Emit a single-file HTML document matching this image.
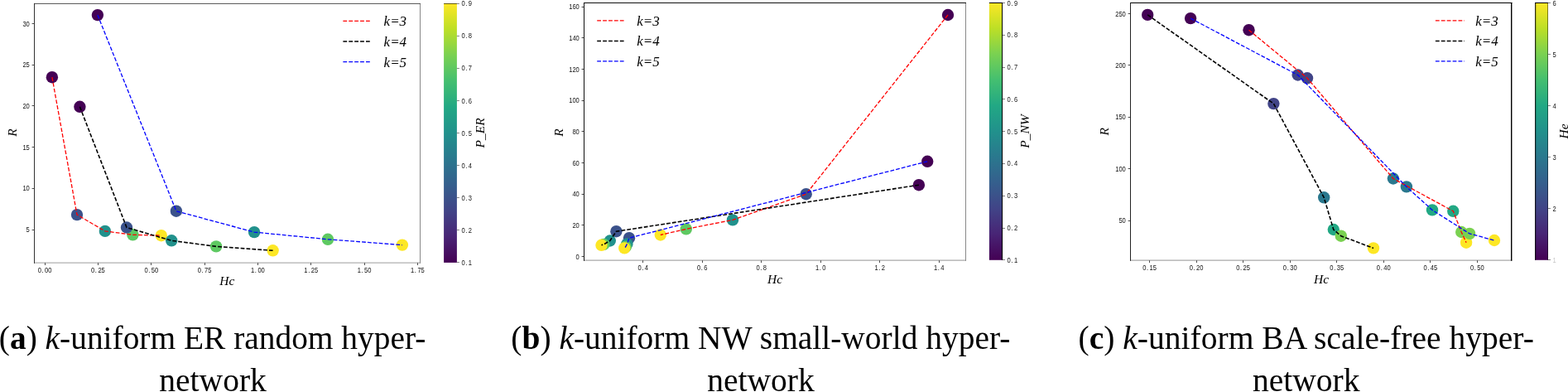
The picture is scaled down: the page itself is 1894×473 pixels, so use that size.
<!DOCTYPE html>
<html lang="en">
<head>
<meta charset="utf-8">
<title>k-uniform hypernetworks: R versus Hc</title>
<style>
html,body{margin:0;padding:0;background:#fff;}
body{width:1894px;height:473px;overflow:hidden;position:relative;font-family:"Liberation Serif",serif;}
svg{position:absolute;left:0;top:0;display:block;}
.tk{font-family:"Liberation Sans",sans-serif;font-size:8.5px;fill:#111;}
.al{font-family:"Liberation Serif",serif;font-style:italic;font-size:15.5px;fill:#000;}
.lg{font-family:"Liberation Serif",serif;font-style:italic;font-size:17px;fill:#000;}
.cap{position:absolute;top:384.4px;font-size:39.55px;line-height:49.6px;color:#000;white-space:nowrap;}
.l2{top:435.2px;width:400px;text-align:center;}
.cap b{font-weight:bold;}
.cap i{font-style:italic;}
</style>
</head>
<body>
<svg width="1894" height="473" viewBox="0 0 1894 473">
<defs>
<linearGradient id="vir" x1="0" y1="1" x2="0" y2="0">
<stop offset="0" stop-color="#440154"/>
<stop offset="0.1" stop-color="#482475"/>
<stop offset="0.2" stop-color="#414487"/>
<stop offset="0.3" stop-color="#355f8d"/>
<stop offset="0.4" stop-color="#2a788e"/>
<stop offset="0.5" stop-color="#21918c"/>
<stop offset="0.6" stop-color="#22a884"/>
<stop offset="0.7" stop-color="#44bf70"/>
<stop offset="0.8" stop-color="#7ad151"/>
<stop offset="0.9" stop-color="#bddf26"/>
<stop offset="1" stop-color="#fde725"/>
</linearGradient>
</defs>
<line x1="41.0" y1="317.2" x2="508.0" y2="317.2" stroke="#b0b0b0" stroke-width="1.3"/>
<line x1="507.5" y1="3.95" x2="507.5" y2="317.84999999999997" stroke="#888" stroke-width="1"/>
<line x1="41.0" y1="4.45" x2="508.0" y2="4.45" stroke="#555" stroke-width="1"/>
<line x1="41.5" y1="3.95" x2="41.5" y2="317.84999999999997" stroke="#333" stroke-width="1"/>
<line x1="54.5" y1="317.2" x2="54.5" y2="320.0" stroke="#222" stroke-width="1" stroke-opacity="0.8"/>
<text transform="translate(54.1 328.8) scale(0.89 1)" class="tk" text-anchor="middle" fill-opacity="1">0<tspan dx="0.7">.</tspan><tspan dx="1.6">00</tspan></text>
<line x1="118.5" y1="317.2" x2="118.5" y2="320.0" stroke="#222" stroke-width="1" stroke-opacity="0.8"/>
<text transform="translate(118.4 328.8) scale(0.89 1)" class="tk" text-anchor="middle" fill-opacity="1">0<tspan dx="0.7">.</tspan><tspan dx="1.6">25</tspan></text>
<line x1="182.5" y1="317.2" x2="182.5" y2="320.0" stroke="#222" stroke-width="1" stroke-opacity="0.8"/>
<text transform="translate(182.8 328.8) scale(0.89 1)" class="tk" text-anchor="middle" fill-opacity="1">0<tspan dx="0.7">.</tspan><tspan dx="1.6">50</tspan></text>
<line x1="247.5" y1="317.2" x2="247.5" y2="320.0" stroke="#222" stroke-width="1" stroke-opacity="0.8"/>
<text transform="translate(247.1 328.8) scale(0.89 1)" class="tk" text-anchor="middle" fill-opacity="1">0<tspan dx="0.7">.</tspan><tspan dx="1.6">75</tspan></text>
<line x1="311.5" y1="317.2" x2="311.5" y2="320.0" stroke="#222" stroke-width="1" stroke-opacity="0.8"/>
<text transform="translate(311.4 328.8) scale(0.89 1)" class="tk" text-anchor="middle" fill-opacity="1">1<tspan dx="0.7">.</tspan><tspan dx="1.6">00</tspan></text>
<line x1="375.5" y1="317.2" x2="375.5" y2="320.0" stroke="#222" stroke-width="1" stroke-opacity="0.8"/>
<text transform="translate(375.7 328.8) scale(0.89 1)" class="tk" text-anchor="middle" fill-opacity="1">1<tspan dx="0.7">.</tspan><tspan dx="1.6">25</tspan></text>
<line x1="440.5" y1="317.2" x2="440.5" y2="320.0" stroke="#222" stroke-width="1" stroke-opacity="0.8"/>
<text transform="translate(440.1 328.8) scale(0.89 1)" class="tk" text-anchor="middle" fill-opacity="1">1<tspan dx="0.7">.</tspan><tspan dx="1.6">50</tspan></text>
<line x1="504.5" y1="317.2" x2="504.5" y2="320.0" stroke="#222" stroke-width="1" stroke-opacity="0.8"/>
<text transform="translate(504.4 328.8) scale(0.89 1)" class="tk" text-anchor="middle" fill-opacity="1">1<tspan dx="0.7">.</tspan><tspan dx="1.6">75</tspan></text>
<line x1="38.6" y1="277.5" x2="41.0" y2="277.5" stroke="#222" stroke-width="1" stroke-opacity="0.8"/>
<text transform="translate(35.8 280.1) scale(0.89 1)" class="tk" text-anchor="end" fill-opacity="1">5</text>
<line x1="38.6" y1="227.5" x2="41.0" y2="227.5" stroke="#222" stroke-width="1" stroke-opacity="0.8"/>
<text transform="translate(35.8 230.4) scale(0.89 1)" class="tk" text-anchor="end" fill-opacity="1">10</text>
<line x1="38.6" y1="177.5" x2="41.0" y2="177.5" stroke="#222" stroke-width="1" stroke-opacity="0.8"/>
<text transform="translate(35.8 180.7) scale(0.89 1)" class="tk" text-anchor="end" fill-opacity="1">15</text>
<line x1="38.6" y1="127.5" x2="41.0" y2="127.5" stroke="#222" stroke-width="1" stroke-opacity="0.8"/>
<text transform="translate(35.8 131.0) scale(0.89 1)" class="tk" text-anchor="end" fill-opacity="1">20</text>
<line x1="38.6" y1="78.5" x2="41.0" y2="78.5" stroke="#222" stroke-width="1" stroke-opacity="0.8"/>
<text transform="translate(35.8 81.3) scale(0.89 1)" class="tk" text-anchor="end" fill-opacity="1">25</text>
<line x1="38.6" y1="28.5" x2="41.0" y2="28.5" stroke="#222" stroke-width="1" stroke-opacity="0.8"/>
<text transform="translate(35.8 31.6) scale(0.89 1)" class="tk" text-anchor="end" fill-opacity="1">30</text>
<circle cx="62.9" cy="93.2" r="7.2" fill="#440154"/>
<circle cx="93.0" cy="259.1" r="7.2" fill="#3b528b"/>
<circle cx="126.9" cy="278.9" r="7.2" fill="#21918c"/>
<circle cx="160.4" cy="283.3" r="7.2" fill="#5ec962"/>
<circle cx="194.8" cy="284.2" r="7.2" fill="#fde725"/>
<circle cx="96.4" cy="128.8" r="7.2" fill="#440154"/>
<circle cx="153.0" cy="274.5" r="7.2" fill="#3b528b"/>
<circle cx="207.2" cy="290.3" r="7.2" fill="#21918c"/>
<circle cx="261.1" cy="297.4" r="7.2" fill="#5ec962"/>
<circle cx="329.6" cy="302.3" r="7.2" fill="#fde725"/>
<circle cx="117.9" cy="18.1" r="7.2" fill="#440154"/>
<circle cx="212.9" cy="254.7" r="7.2" fill="#3b528b"/>
<circle cx="307.1" cy="280.1" r="7.2" fill="#21918c"/>
<circle cx="396.0" cy="288.8" r="7.2" fill="#5ec962"/>
<circle cx="485.9" cy="295.6" r="7.2" fill="#fde725"/>
<polyline points="62.9,93.2 93.0,259.1 126.9,278.9 160.4,283.3 194.8,284.2" fill="none" stroke="#ff0000" stroke-width="1.3" stroke-dasharray="4.8 2.1"/>
<polyline points="96.4,128.8 153.0,274.5 207.2,290.3 261.1,297.4 329.6,302.3" fill="none" stroke="#000000" stroke-width="1.6" stroke-dasharray="4.8 2.1"/>
<polyline points="117.9,18.1 212.9,254.7 307.1,280.1 396.0,288.8 485.9,295.6" fill="none" stroke="#0000ff" stroke-width="1.3" stroke-dasharray="4.8 2.1"/>
<line x1="414.4" y1="25.4" x2="447.9" y2="25.4" stroke="#ff0000" stroke-width="1.3" stroke-dasharray="4.8 2.1"/>
<text x="463.6" y="31.299999999999997" class="lg">k=3</text>
<line x1="414.4" y1="50.0" x2="447.9" y2="50.0" stroke="#000000" stroke-width="1.3" stroke-dasharray="4.8 2.1"/>
<text x="463.6" y="55.9" class="lg">k=4</text>
<line x1="414.4" y1="74.7" x2="447.9" y2="74.7" stroke="#0000ff" stroke-width="1.3" stroke-dasharray="4.8 2.1"/>
<text x="463.6" y="80.60000000000001" class="lg">k=5</text>
<text x="274.3" y="344.3" class="al" text-anchor="middle">Hc</text>
<text transform="translate(20 160) rotate(-90)" class="al" text-anchor="middle">R</text>
<rect x="536.1" y="4.0" width="15.799999999999955" height="312.9" fill="url(#vir)"/>
<line x1="536.1" y1="4.5" x2="551.9" y2="4.5" stroke="#000" stroke-width="1" stroke-opacity="0.6"/>
<line x1="551.9" y1="316.5" x2="554.9" y2="316.5" stroke="#222" stroke-width="1" stroke-opacity="0.55"/>
<text transform="translate(557.5 319.8) scale(0.89 1)" class="tk" text-anchor="start" fill-opacity="1">0<tspan dx="0.7">.</tspan><tspan dx="1.6">1</tspan></text>
<line x1="551.9" y1="277.5" x2="554.9" y2="277.5" stroke="#222" stroke-width="1" stroke-opacity="0.55"/>
<text transform="translate(557.5 280.7) scale(0.89 1)" class="tk" text-anchor="start" fill-opacity="1">0<tspan dx="0.7">.</tspan><tspan dx="1.6">2</tspan></text>
<line x1="551.9" y1="238.5" x2="554.9" y2="238.5" stroke="#222" stroke-width="1" stroke-opacity="0.55"/>
<text transform="translate(557.5 241.7) scale(0.89 1)" class="tk" text-anchor="start" fill-opacity="1">0<tspan dx="0.7">.</tspan><tspan dx="1.6">3</tspan></text>
<line x1="551.9" y1="199.5" x2="554.9" y2="199.5" stroke="#222" stroke-width="1" stroke-opacity="0.55"/>
<text transform="translate(557.5 202.6) scale(0.89 1)" class="tk" text-anchor="start" fill-opacity="1">0<tspan dx="0.7">.</tspan><tspan dx="1.6">4</tspan></text>
<line x1="551.9" y1="160.5" x2="554.9" y2="160.5" stroke="#222" stroke-width="1" stroke-opacity="0.55"/>
<text transform="translate(557.5 163.5) scale(0.89 1)" class="tk" text-anchor="start" fill-opacity="1">0<tspan dx="0.7">.</tspan><tspan dx="1.6">5</tspan></text>
<line x1="551.9" y1="121.5" x2="554.9" y2="121.5" stroke="#222" stroke-width="1" stroke-opacity="0.55"/>
<text transform="translate(557.5 124.5) scale(0.89 1)" class="tk" text-anchor="start" fill-opacity="1">0<tspan dx="0.7">.</tspan><tspan dx="1.6">6</tspan></text>
<line x1="551.9" y1="82.5" x2="554.9" y2="82.5" stroke="#222" stroke-width="1" stroke-opacity="0.55"/>
<text transform="translate(557.5 85.4) scale(0.89 1)" class="tk" text-anchor="start" fill-opacity="1">0<tspan dx="0.7">.</tspan><tspan dx="1.6">7</tspan></text>
<line x1="551.9" y1="43.5" x2="554.9" y2="43.5" stroke="#222" stroke-width="1" stroke-opacity="0.55"/>
<text transform="translate(557.5 46.3) scale(0.89 1)" class="tk" text-anchor="start" fill-opacity="1">0<tspan dx="0.7">.</tspan><tspan dx="1.6">8</tspan></text>
<line x1="551.9" y1="4.5" x2="554.9" y2="4.5" stroke="#222" stroke-width="1" stroke-opacity="0.55"/>
<text transform="translate(557.5 7.2) scale(0.89 1)" class="tk" text-anchor="start" fill-opacity="1">0<tspan dx="0.7">.</tspan><tspan dx="1.6">9</tspan></text>
<text transform="translate(585 160.45) rotate(-90)" class="al" text-anchor="middle">P_ER</text>
<line x1="705.0" y1="314.2" x2="1167.0" y2="314.2" stroke="#a8a8a8" stroke-width="1.3"/>
<line x1="1166.5" y1="3.0" x2="1166.5" y2="314.84999999999997" stroke="#888" stroke-width="1"/>
<line x1="705.0" y1="3.5" x2="1167.0" y2="3.5" stroke="#111" stroke-width="1"/>
<line x1="705.5" y1="3.0" x2="705.5" y2="314.84999999999997" stroke="#111" stroke-width="1"/>
<line x1="776.5" y1="314.3" x2="776.5" y2="317.1" stroke="#222" stroke-width="1" stroke-opacity="0.8"/>
<text transform="translate(776.7 325.8) scale(0.89 1)" class="tk" text-anchor="middle" fill-opacity="1">0<tspan dx="0.7">.</tspan><tspan dx="1.6">4</tspan></text>
<line x1="848.5" y1="314.3" x2="848.5" y2="317.1" stroke="#222" stroke-width="1" stroke-opacity="0.8"/>
<text transform="translate(848.2 325.8) scale(0.89 1)" class="tk" text-anchor="middle" fill-opacity="1">0<tspan dx="0.7">.</tspan><tspan dx="1.6">6</tspan></text>
<line x1="919.5" y1="314.3" x2="919.5" y2="317.1" stroke="#222" stroke-width="1" stroke-opacity="0.8"/>
<text transform="translate(919.7 325.8) scale(0.89 1)" class="tk" text-anchor="middle" fill-opacity="1">0<tspan dx="0.7">.</tspan><tspan dx="1.6">8</tspan></text>
<line x1="991.5" y1="314.3" x2="991.5" y2="317.1" stroke="#222" stroke-width="1" stroke-opacity="0.8"/>
<text transform="translate(991.3 325.8) scale(0.89 1)" class="tk" text-anchor="middle" fill-opacity="1">1<tspan dx="0.7">.</tspan><tspan dx="1.6">0</tspan></text>
<line x1="1062.5" y1="314.3" x2="1062.5" y2="317.1" stroke="#222" stroke-width="1" stroke-opacity="0.8"/>
<text transform="translate(1062.8 325.8) scale(0.89 1)" class="tk" text-anchor="middle" fill-opacity="1">1<tspan dx="0.7">.</tspan><tspan dx="1.6">2</tspan></text>
<line x1="1134.5" y1="314.3" x2="1134.5" y2="317.1" stroke="#222" stroke-width="1" stroke-opacity="0.8"/>
<text transform="translate(1134.3 325.8) scale(0.89 1)" class="tk" text-anchor="middle" fill-opacity="1">1<tspan dx="0.7">.</tspan><tspan dx="1.6">4</tspan></text>
<line x1="702.6" y1="309.5" x2="705.0" y2="309.5" stroke="#222" stroke-width="1" stroke-opacity="0.8"/>
<text transform="translate(699.8 312.6) scale(0.89 1)" class="tk" text-anchor="end" fill-opacity="1">0</text>
<line x1="702.6" y1="271.5" x2="705.0" y2="271.5" stroke="#222" stroke-width="1" stroke-opacity="0.8"/>
<text transform="translate(699.8 274.9) scale(0.89 1)" class="tk" text-anchor="end" fill-opacity="1">20</text>
<line x1="702.6" y1="234.5" x2="705.0" y2="234.5" stroke="#222" stroke-width="1" stroke-opacity="0.8"/>
<text transform="translate(699.8 237.3) scale(0.89 1)" class="tk" text-anchor="end" fill-opacity="1">40</text>
<line x1="702.6" y1="196.5" x2="705.0" y2="196.5" stroke="#222" stroke-width="1" stroke-opacity="0.8"/>
<text transform="translate(699.8 199.6) scale(0.89 1)" class="tk" text-anchor="end" fill-opacity="1">60</text>
<line x1="702.6" y1="158.5" x2="705.0" y2="158.5" stroke="#222" stroke-width="1" stroke-opacity="0.8"/>
<text transform="translate(699.8 162.0) scale(0.89 1)" class="tk" text-anchor="end" fill-opacity="1">80</text>
<line x1="702.6" y1="121.5" x2="705.0" y2="121.5" stroke="#222" stroke-width="1" stroke-opacity="0.8"/>
<text transform="translate(699.8 124.3) scale(0.89 1)" class="tk" text-anchor="end" fill-opacity="1">100</text>
<line x1="702.6" y1="83.5" x2="705.0" y2="83.5" stroke="#222" stroke-width="1" stroke-opacity="0.8"/>
<text transform="translate(699.8 86.6) scale(0.89 1)" class="tk" text-anchor="end" fill-opacity="1">120</text>
<line x1="702.6" y1="45.5" x2="705.0" y2="45.5" stroke="#222" stroke-width="1" stroke-opacity="0.8"/>
<text transform="translate(699.8 49.0) scale(0.89 1)" class="tk" text-anchor="end" fill-opacity="1">140</text>
<line x1="702.6" y1="8.5" x2="705.0" y2="8.5" stroke="#222" stroke-width="1" stroke-opacity="0.8"/>
<text transform="translate(699.8 11.3) scale(0.89 1)" class="tk" text-anchor="end" fill-opacity="1">160</text>
<circle cx="1145.0" cy="18.0" r="7.2" fill="#440154"/>
<circle cx="973.7" cy="234.2" r="7.2" fill="#3b528b"/>
<circle cx="885.0" cy="265.4" r="7.2" fill="#21918c"/>
<circle cx="828.8" cy="276.4" r="7.2" fill="#5ec962"/>
<circle cx="797.8" cy="283.5" r="7.2" fill="#fde725"/>
<circle cx="1109.9" cy="223.2" r="7.2" fill="#440154"/>
<circle cx="744.4" cy="279.2" r="7.2" fill="#3b528b"/>
<circle cx="736.8" cy="290.5" r="7.2" fill="#21918c"/>
<circle cx="729.3" cy="294.9" r="7.2" fill="#5ec962"/>
<circle cx="726.5" cy="295.8" r="7.2" fill="#fde725"/>
<circle cx="1120.2" cy="194.8" r="7.2" fill="#440154"/>
<circle cx="760.0" cy="287.2" r="7.2" fill="#3b528b"/>
<circle cx="757.4" cy="294.4" r="7.2" fill="#21918c"/>
<circle cx="755.7" cy="297.8" r="7.2" fill="#5ec962"/>
<circle cx="754.3" cy="299.4" r="7.2" fill="#fde725"/>
<polyline points="1145.0,18.0 973.7,234.2 885.0,265.4 828.8,276.4 797.8,283.5" fill="none" stroke="#ff0000" stroke-width="1.3" stroke-dasharray="4.8 2.1"/>
<polyline points="1109.9,223.2 744.4,279.2 736.8,290.5 729.3,294.9 726.5,295.8" fill="none" stroke="#000000" stroke-width="1.6" stroke-dasharray="4.8 2.1"/>
<polyline points="1120.2,194.8 760.0,287.2 757.4,294.4 755.7,297.8 754.3,299.4" fill="none" stroke="#0000ff" stroke-width="1.3" stroke-dasharray="4.8 2.1"/>
<line x1="721.2" y1="24.9" x2="755.2" y2="24.9" stroke="#ff0000" stroke-width="1.3" stroke-dasharray="4.8 2.1"/>
<text x="769.2" y="30.799999999999997" class="lg">k=3</text>
<line x1="721.2" y1="49.5" x2="755.2" y2="49.5" stroke="#000000" stroke-width="1.3" stroke-dasharray="4.8 2.1"/>
<text x="769.2" y="55.4" class="lg">k=4</text>
<line x1="721.2" y1="73.9" x2="755.2" y2="73.9" stroke="#0000ff" stroke-width="1.3" stroke-dasharray="4.8 2.1"/>
<text x="769.2" y="79.80000000000001" class="lg">k=5</text>
<text x="936" y="341.6" class="al" text-anchor="middle">Hc</text>
<text transform="translate(680 160) rotate(-90)" class="al" text-anchor="middle">R</text>
<rect x="1194.9" y="3.0" width="16.09999999999991" height="310.8" fill="url(#vir)"/>
<line x1="1194.9" y1="3.5" x2="1211" y2="3.5" stroke="#000" stroke-width="1" stroke-opacity="1"/>
<line x1="1210.6" y1="3" x2="1210.6" y2="313.8" stroke="#000" stroke-width="1" stroke-opacity="1"/>
<line x1="1211.0" y1="313.5" x2="1214.0" y2="313.5" stroke="#222" stroke-width="1" stroke-opacity="0.55"/>
<text transform="translate(1216.6 316.8) scale(0.89 1)" class="tk" text-anchor="start" fill-opacity="1">0<tspan dx="0.7">.</tspan><tspan dx="1.6">1</tspan></text>
<line x1="1211.0" y1="275.5" x2="1214.0" y2="275.5" stroke="#222" stroke-width="1" stroke-opacity="0.55"/>
<text transform="translate(1216.6 278.0) scale(0.89 1)" class="tk" text-anchor="start" fill-opacity="1">0<tspan dx="0.7">.</tspan><tspan dx="1.6">2</tspan></text>
<line x1="1211.0" y1="236.5" x2="1214.0" y2="236.5" stroke="#222" stroke-width="1" stroke-opacity="0.55"/>
<text transform="translate(1216.6 239.2) scale(0.89 1)" class="tk" text-anchor="start" fill-opacity="1">0<tspan dx="0.7">.</tspan><tspan dx="1.6">3</tspan></text>
<line x1="1211.0" y1="197.5" x2="1214.0" y2="197.5" stroke="#222" stroke-width="1" stroke-opacity="0.55"/>
<text transform="translate(1216.6 200.4) scale(0.89 1)" class="tk" text-anchor="start" fill-opacity="1">0<tspan dx="0.7">.</tspan><tspan dx="1.6">4</tspan></text>
<line x1="1211.0" y1="158.5" x2="1214.0" y2="158.5" stroke="#222" stroke-width="1" stroke-opacity="0.55"/>
<text transform="translate(1216.6 161.6) scale(0.89 1)" class="tk" text-anchor="start" fill-opacity="1">0<tspan dx="0.7">.</tspan><tspan dx="1.6">5</tspan></text>
<line x1="1211.0" y1="119.5" x2="1214.0" y2="119.5" stroke="#222" stroke-width="1" stroke-opacity="0.55"/>
<text transform="translate(1216.6 122.9) scale(0.89 1)" class="tk" text-anchor="start" fill-opacity="1">0<tspan dx="0.7">.</tspan><tspan dx="1.6">6</tspan></text>
<line x1="1211.0" y1="81.5" x2="1214.0" y2="81.5" stroke="#222" stroke-width="1" stroke-opacity="0.55"/>
<text transform="translate(1216.6 84.1) scale(0.89 1)" class="tk" text-anchor="start" fill-opacity="1">0<tspan dx="0.7">.</tspan><tspan dx="1.6">7</tspan></text>
<line x1="1211.0" y1="42.5" x2="1214.0" y2="42.5" stroke="#222" stroke-width="1" stroke-opacity="0.55"/>
<text transform="translate(1216.6 45.3) scale(0.89 1)" class="tk" text-anchor="start" fill-opacity="1">0<tspan dx="0.7">.</tspan><tspan dx="1.6">8</tspan></text>
<line x1="1211.0" y1="3.5" x2="1214.0" y2="3.5" stroke="#222" stroke-width="1" stroke-opacity="0.55"/>
<text transform="translate(1216.6 6.5) scale(0.89 1)" class="tk" text-anchor="start" fill-opacity="1">0<tspan dx="0.7">.</tspan><tspan dx="1.6">9</tspan></text>
<text transform="translate(1242.8 158.4) rotate(-90)" class="al" text-anchor="middle">P_NW</text>
<line x1="1365.0" y1="314.2" x2="1826.4" y2="314.2" stroke="#a8a8a8" stroke-width="1.3"/>
<line x1="1825.7" y1="3.0" x2="1825.7" y2="314.84999999999997" stroke="#000" stroke-width="1.4"/>
<line x1="1365.0" y1="3.5" x2="1826.4" y2="3.5" stroke="#000" stroke-width="1"/>
<line x1="1365.5" y1="3.0" x2="1365.5" y2="314.84999999999997" stroke="#222" stroke-width="1"/>
<line x1="1388.5" y1="314.3" x2="1388.5" y2="317.1" stroke="#222" stroke-width="1" stroke-opacity="0.8"/>
<text transform="translate(1388.5 325.8) scale(0.89 1)" class="tk" text-anchor="middle" fill-opacity="1">0<tspan dx="0.7">.</tspan><tspan dx="1.6">15</tspan></text>
<line x1="1445.5" y1="314.3" x2="1445.5" y2="317.1" stroke="#222" stroke-width="1" stroke-opacity="0.8"/>
<text transform="translate(1445.0 325.8) scale(0.89 1)" class="tk" text-anchor="middle" fill-opacity="1">0<tspan dx="0.7">.</tspan><tspan dx="1.6">20</tspan></text>
<line x1="1501.5" y1="314.3" x2="1501.5" y2="317.1" stroke="#222" stroke-width="1" stroke-opacity="0.8"/>
<text transform="translate(1501.6 325.8) scale(0.89 1)" class="tk" text-anchor="middle" fill-opacity="1">0<tspan dx="0.7">.</tspan><tspan dx="1.6">25</tspan></text>
<line x1="1558.5" y1="314.3" x2="1558.5" y2="317.1" stroke="#222" stroke-width="1" stroke-opacity="0.8"/>
<text transform="translate(1558.2 325.8) scale(0.89 1)" class="tk" text-anchor="middle" fill-opacity="1">0<tspan dx="0.7">.</tspan><tspan dx="1.6">30</tspan></text>
<line x1="1614.5" y1="314.3" x2="1614.5" y2="317.1" stroke="#222" stroke-width="1" stroke-opacity="0.8"/>
<text transform="translate(1614.7 325.8) scale(0.89 1)" class="tk" text-anchor="middle" fill-opacity="1">0<tspan dx="0.7">.</tspan><tspan dx="1.6">35</tspan></text>
<line x1="1671.5" y1="314.3" x2="1671.5" y2="317.1" stroke="#222" stroke-width="1" stroke-opacity="0.8"/>
<text transform="translate(1671.2 325.8) scale(0.89 1)" class="tk" text-anchor="middle" fill-opacity="1">0<tspan dx="0.7">.</tspan><tspan dx="1.6">40</tspan></text>
<line x1="1727.5" y1="314.3" x2="1727.5" y2="317.1" stroke="#222" stroke-width="1" stroke-opacity="0.8"/>
<text transform="translate(1727.8 325.8) scale(0.89 1)" class="tk" text-anchor="middle" fill-opacity="1">0<tspan dx="0.7">.</tspan><tspan dx="1.6">45</tspan></text>
<line x1="1784.5" y1="314.3" x2="1784.5" y2="317.1" stroke="#222" stroke-width="1" stroke-opacity="0.8"/>
<text transform="translate(1784.3 325.8) scale(0.89 1)" class="tk" text-anchor="middle" fill-opacity="1">0<tspan dx="0.7">.</tspan><tspan dx="1.6">50</tspan></text>
<line x1="1362.6" y1="266.5" x2="1365.0" y2="266.5" stroke="#222" stroke-width="1" stroke-opacity="0.8"/>
<text transform="translate(1359.8 269.1) scale(0.89 1)" class="tk" text-anchor="end" fill-opacity="1">50</text>
<line x1="1362.6" y1="203.5" x2="1365.0" y2="203.5" stroke="#222" stroke-width="1" stroke-opacity="0.8"/>
<text transform="translate(1359.8 206.8) scale(0.89 1)" class="tk" text-anchor="end" fill-opacity="1">100</text>
<line x1="1362.6" y1="141.5" x2="1365.0" y2="141.5" stroke="#222" stroke-width="1" stroke-opacity="0.8"/>
<text transform="translate(1359.8 144.4) scale(0.89 1)" class="tk" text-anchor="end" fill-opacity="1">150</text>
<line x1="1362.6" y1="78.5" x2="1365.0" y2="78.5" stroke="#222" stroke-width="1" stroke-opacity="0.8"/>
<text transform="translate(1359.8 82.1) scale(0.89 1)" class="tk" text-anchor="end" fill-opacity="1">200</text>
<line x1="1362.6" y1="16.5" x2="1365.0" y2="16.5" stroke="#222" stroke-width="1" stroke-opacity="0.8"/>
<text transform="translate(1359.8 19.7) scale(0.89 1)" class="tk" text-anchor="end" fill-opacity="1">250</text>
<circle cx="1508.5" cy="36.2" r="7.2" fill="#440154"/>
<circle cx="1579.0" cy="94.3" r="7.2" fill="#414487"/>
<circle cx="1682.9" cy="215.5" r="7.2" fill="#2a788e"/>
<circle cx="1755.3" cy="254.8" r="7.2" fill="#22a884"/>
<circle cx="1765.2" cy="280.0" r="7.2" fill="#7ad151"/>
<circle cx="1771.1" cy="292.7" r="7.2" fill="#fde725"/>
<circle cx="1386.2" cy="17.9" r="7.2" fill="#440154"/>
<circle cx="1538.4" cy="125.1" r="7.2" fill="#414487"/>
<circle cx="1599.2" cy="238.3" r="7.2" fill="#2a788e"/>
<circle cx="1610.8" cy="277.0" r="7.2" fill="#22a884"/>
<circle cx="1619.8" cy="284.7" r="7.2" fill="#7ad151"/>
<circle cx="1659.0" cy="299.4" r="7.2" fill="#fde725"/>
<circle cx="1438.1" cy="22.1" r="7.2" fill="#440154"/>
<circle cx="1567.7" cy="90.5" r="7.2" fill="#414487"/>
<circle cx="1698.9" cy="225.4" r="7.2" fill="#2a788e"/>
<circle cx="1730.0" cy="253.4" r="7.2" fill="#22a884"/>
<circle cx="1775.1" cy="281.9" r="7.2" fill="#7ad151"/>
<circle cx="1805.0" cy="290.0" r="7.2" fill="#fde725"/>
<polyline points="1508.5,36.2 1579.0,94.3 1682.9,215.5 1755.3,254.8 1765.2,280.0 1771.1,292.7" fill="none" stroke="#ff0000" stroke-width="1.3" stroke-dasharray="4.8 2.1"/>
<polyline points="1386.2,17.9 1538.4,125.1 1599.2,238.3 1610.8,277.0 1619.8,284.7 1659.0,299.4" fill="none" stroke="#000000" stroke-width="1.6" stroke-dasharray="4.8 2.1"/>
<polyline points="1438.1,22.1 1567.7,90.5 1698.9,225.4 1730.0,253.4 1775.1,281.9 1805.0,290.0" fill="none" stroke="#0000ff" stroke-width="1.3" stroke-dasharray="4.8 2.1"/>
<line x1="1733.9" y1="24.9" x2="1768.9" y2="24.9" stroke="#ff0000" stroke-width="1.3" stroke-dasharray="4.8 2.1"/>
<text x="1782.3" y="30.799999999999997" class="lg">k=3</text>
<line x1="1733.9" y1="49.5" x2="1768.9" y2="49.5" stroke="#000000" stroke-width="1.3" stroke-dasharray="4.8 2.1"/>
<text x="1782.3" y="55.4" class="lg">k=4</text>
<line x1="1733.9" y1="73.9" x2="1768.9" y2="73.9" stroke="#0000ff" stroke-width="1.3" stroke-dasharray="4.8 2.1"/>
<text x="1782.3" y="79.80000000000001" class="lg">k=5</text>
<text x="1596" y="341.6" class="al" text-anchor="middle">Hc</text>
<text transform="translate(1339.3 158.8) rotate(-90)" class="al" text-anchor="middle">R</text>
<rect x="1854.2" y="3.0" width="15.799999999999955" height="310.8" fill="url(#vir)"/>
<line x1="1854.2" y1="3.5" x2="1870" y2="3.5" stroke="#000" stroke-width="1" stroke-opacity="1"/>
<line x1="1854.7" y1="3" x2="1854.7" y2="313.8" stroke="#000" stroke-width="1" stroke-opacity="1"/>
<line x1="1869.5" y1="3" x2="1869.5" y2="313.8" stroke="#000" stroke-width="1" stroke-opacity="0.45"/>
<line x1="1870.0" y1="313.5" x2="1873.0" y2="313.5" stroke="#222" stroke-width="1" stroke-opacity="0.55"/>
<text transform="translate(1875.6 316.8) scale(0.89 1)" class="tk" text-anchor="start" fill-opacity="0.25">1</text>
<line x1="1870.0" y1="251.5" x2="1873.0" y2="251.5" stroke="#222" stroke-width="1" stroke-opacity="0.55"/>
<text transform="translate(1875.6 254.7) scale(0.89 1)" class="tk" text-anchor="start" fill-opacity="1">2</text>
<line x1="1870.0" y1="189.5" x2="1873.0" y2="189.5" stroke="#222" stroke-width="1" stroke-opacity="0.55"/>
<text transform="translate(1875.6 192.7) scale(0.89 1)" class="tk" text-anchor="start" fill-opacity="1">3</text>
<line x1="1870.0" y1="127.5" x2="1873.0" y2="127.5" stroke="#222" stroke-width="1" stroke-opacity="0.55"/>
<text transform="translate(1875.6 130.6) scale(0.89 1)" class="tk" text-anchor="start" fill-opacity="1">4</text>
<line x1="1870.0" y1="65.5" x2="1873.0" y2="65.5" stroke="#222" stroke-width="1" stroke-opacity="0.55"/>
<text transform="translate(1875.6 68.6) scale(0.89 1)" class="tk" text-anchor="start" fill-opacity="1">5</text>
<line x1="1870.0" y1="3.5" x2="1873.0" y2="3.5" stroke="#222" stroke-width="1" stroke-opacity="0.55"/>
<text transform="translate(1875.6 6.5) scale(0.89 1)" class="tk" text-anchor="start" fill-opacity="1">6</text>
<text transform="translate(1893.6 158.4) rotate(-90)" class="al" text-anchor="middle">He</text>
</svg>
<div class="cap" id="capa" style="left:-1.2px;font-size:39.4px;">(<b>a</b>) <i>k</i>-uniform ER random hyper-</div>
<div class="cap l2" style="left:57.1px;">network</div>
<div class="cap" id="capb" style="left:617.3px;font-size:39.45px;">(<b>b</b>) <i>k</i>-uniform NW small-world hyper-</div>
<div class="cap l2" style="left:719.0px;">network</div>
<div class="cap" id="capc" style="left:1302.5px;">(<b>c</b>) <i>k</i>-uniform BA scale-free hyper-</div>
<div class="cap l2" style="left:1377.7px;">network</div>
</body>
</html>
